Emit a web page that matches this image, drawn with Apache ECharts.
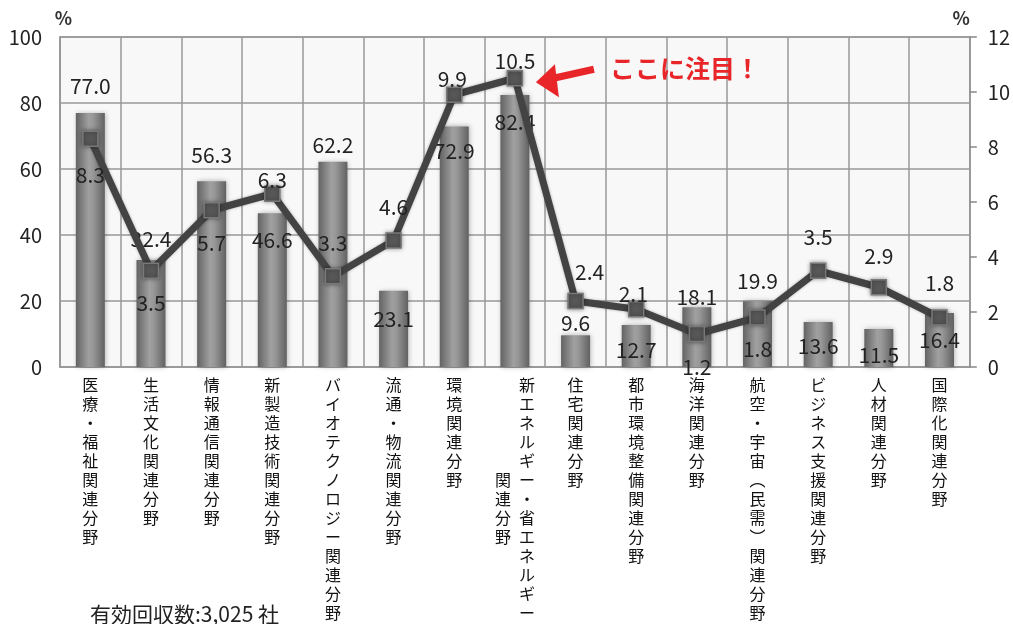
<!DOCTYPE html>
<html><head><meta charset="utf-8">
<script src="https://cdn.jsdelivr.net/npm/echarts/dist/echarts.min.js"></script>
<style>html,body{margin:0;padding:0;background:#fff}#c{width:1013px;height:624px}</style>
</head><body><div id="c"></div>
<script>
const categories = ['医療・福祉関連分野', '生活文化関連分野', '情報通信関連分野', '新製造技術関連分野', 'バイオテクノロジー関連分野', '流通・物流関連分野', '環境関連分野', '新エネルギー・省エネルギー関連分野', '住宅関連分野', '都市環境整備関連分野', '海洋関連分野', '航空・宇宙（民需）関連分野', 'ビジネス支援関連分野', '人材関連分野', '国際化関連分野'];
const barValues = [77.0, 32.4, 56.3, 46.6, 62.2, 23.1, 72.9, 82.4, 9.6, 12.7, 18.1, 19.9, 13.6, 11.5, 16.4];
const lineValues = [8.3, 3.5, 5.7, 6.3, 3.3, 4.6, 9.9, 10.5, 2.4, 2.1, 1.2, 1.8, 3.5, 2.9, 1.8];
const leftAxisTicks = [0, 20, 40, 60, 80, 100];
const rightAxisTicks = [0, 2, 4, 6, 8, 10, 12];
const unitLabel = '%';
const noteText = '有効回収数:3,025 社';
const calloutText = 'ここに注目！';
const calloutIndex = 7;

// label placement (style only)
const barLabelDy = [-27, -21, -26, 27, -17, 28, 25, 27, -12, 25, -10, -20, 24, 26, 27];
const lineLabelDy = [36, 32, 33, -14, -33, -33, -16, -17, -29, -15, 33, 32, -34, -31, -34];
const lineLabelDx = [0, 0, 0, 0, 0, 0, -2, 0, 14, -3, 0, 0, 0, 0, 0];

const FONT = '"Noto Sans CJK JP", "Noto Sans", sans-serif';

function verticalize(name, idx) {
  if (idx === 7) {
    const col1 = Array.from('新エネルギー・省エネルギー');
    const col2 = Array.from('関連分野');
    return col1.map((c, i) => ((i >= 5 && i < 9) ? col2[i - 5] : '\u3000') + '\u2002' + c).join('\n');
  }
  return Array.from(name).map(c => c === '（' ? '︵' : (c === '）' ? '︶' : c)).join('\n');
}

const chart = echarts.init(document.getElementById('c'), null, {renderer: 'canvas'});
const option = {
  animation: false,
  backgroundColor: '#ffffff',
  title: {
    text: noteText, left: 85, top: 599,
    textStyle: {fontFamily: FONT, fontSize: 21, fontWeight: 'normal', color: '#222'}
  },
  grid: {
    left: 60, right: 41, top: 37, bottom: 257,
    show: true, backgroundColor: '#f8f8f8', borderColor: '#999', borderWidth: 1.5
  },
  xAxis: {
    type: 'category', data: categories, boundaryGap: true,
    axisLine: {show: true, lineStyle: {color: '#999', width: 1.5}},
    axisTick: {show: false},
    splitLine: {show: true, interval: 0, lineStyle: {color: '#999', width: 1.5}},
    axisLabel: {
      interval: 0, margin: 8, fontFamily: FONT, fontSize: 16, lineHeight: 19, color: '#111',
      formatter: (v, i) => verticalize(v, i)
    }
  },
  yAxis: [{
    type: 'value', min: leftAxisTicks[0], max: leftAxisTicks[leftAxisTicks.length - 1],
    interval: leftAxisTicks[1] - leftAxisTicks[0],
    name: unitLabel, nameLocation: 'end', nameGap: 10,
    nameTextStyle: {fontFamily: FONT, fontSize: 18, fontWeight: 'bold', color: '#333', align: 'center', padding: [0, 0, 0, 7]},
    axisLine: {show: true, lineStyle: {color: '#999', width: 1.5}},
    axisTick: {show: false},
    splitLine: {show: true, lineStyle: {color: '#999', width: 1.5}},
    axisLabel: {margin: 18, fontFamily: FONT, fontSize: 20, color: '#222'}
  }, {
    type: 'value', min: rightAxisTicks[0], max: rightAxisTicks[rightAxisTicks.length - 1],
    interval: rightAxisTicks[1] - rightAxisTicks[0],
    name: unitLabel, nameLocation: 'end', nameGap: 10,
    nameTextStyle: {fontFamily: FONT, fontSize: 18, fontWeight: 'bold', color: '#333', align: 'right'},
    axisLine: {show: true, lineStyle: {color: '#999', width: 1.5}},
    axisTick: {show: true, inside: false, length: 7, lineStyle: {color: '#888', width: 1.5}},
    splitLine: {show: false},
    axisLabel: {margin: 18, fontFamily: FONT, fontSize: 20, color: '#222'}
  }],
  series: [{
    type: 'bar', yAxisIndex: 0, barWidth: 29, z: 2,
    data: barValues.map((v, i) => ({
      value: v,
      label: {show: true, position: 'top', distance: 0, verticalAlign: 'middle', offset: [0, barLabelDy[i]]}
    })),
    itemStyle: {
      color: new echarts.graphic.LinearGradient(0, 0, 1, 0, [
        {offset: 0, color: '#636363'}, {offset: 0.45, color: '#a0a0a0'},
        {offset: 0.6, color: '#979797'}, {offset: 1, color: '#616161'}
      ]),
      shadowBlur: 5, shadowColor: 'rgba(0,0,0,0.3)', shadowOffsetX: 1
    },
    label: {show: true, fontFamily: FONT, fontSize: 21, color: '#222', formatter: p => p.value.toFixed(1)}
  }, {
    type: 'line', yAxisIndex: 1, z: 5,
    data: lineValues.map((v, i) => ({
      value: v,
      label: {show: true, position: 'inside', offset: [lineLabelDx[i], lineLabelDy[i]]}
    })),
    symbol: 'rect', symbolSize: 15,
    lineStyle: {color: '#434343', width: 7, shadowBlur: 3, shadowColor: 'rgba(0,0,0,0.3)'},
    itemStyle: {color: '#575757', borderColor: '#787878', borderWidth: 1.5, shadowBlur: 4, shadowColor: 'rgba(0,0,0,0.4)'},
    label: {show: true, fontFamily: FONT, fontSize: 21, color: '#222', formatter: p => p.value.toFixed(1)}
  }]
};
chart.setOption(option);

const p = chart.convertToPixel({seriesIndex: 1}, [calloutIndex, lineValues[calloutIndex]]);
const RED = '#e8262a';
chart.setOption({
  graphic: [{
    type: 'line', z: 100,
    shape: {x1: p[0] + 34, y1: p[1] + 1, x2: p[0] + 79, y2: p[1] - 9},
    style: {stroke: RED, lineWidth: 7}
  }, {
    type: 'polygon', z: 100,
    shape: {points: [[p[0] + 21, p[1] + 4], [p[0] + 40, p[1] - 14], [p[0] + 44, p[1] + 19]]},
    style: {fill: RED}
  }, {
    type: 'text', z: 100, left: p[0] + 95, top: p[1] - 22,
    style: {text: calloutText, fill: RED, font: 'bold 25px ' + FONT}
  }]
});
</script></body></html>
